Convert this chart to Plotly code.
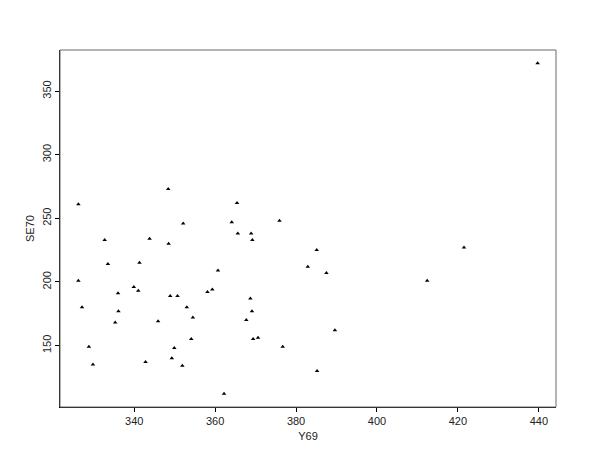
import plotly.graph_objects as go

# Anscombe education data
states = ["ME", "NH", "VT", "MA", "RI", "CT", "NY", "NJ", "PA", "OH", "IN", "IL", "MI",
          "WI", "MN", "IO", "MO", "ND", "SD", "NE", "KA", "DE", "MD", "DC", "VA", "WV",
          "NC", "SC", "GA", "FL", "KY", "TN", "AL", "MS", "AR", "LA", "OK", "TX", "MT",
          "ID", "WY", "CO", "NM", "AZ", "UT", "NV", "WA", "OR", "CA", "AK", "HI"]
y69 = [350.7, 345.9, 348.5, 335.3, 327.1, 341.0, 326.2, 333.5, 326.2, 354.5, 359.3, 348.9, 369.2,
       360.7, 365.4, 343.8, 336.1, 369.1, 368.7, 349.9, 339.9, 375.9, 364.1, 352.1, 353.0, 328.8,
       354.1, 376.7, 370.6, 336.0, 349.3, 342.8, 362.2, 385.2, 351.9, 389.6, 329.8, 369.4, 368.9,
       367.7, 365.6, 358.1, 421.5, 387.5, 412.4, 385.1, 341.3, 332.7, 348.4, 439.7, 382.9]
se70 = [189, 169, 230, 168, 180, 193, 261, 214, 201, 172, 194, 189, 233,
        209, 262, 234, 177, 177, 187, 148, 196, 248, 247, 246, 180, 149,
        155, 149, 156, 191, 140, 137, 112, 130, 134, 162, 135, 155, 238,
        170, 238, 192, 227, 207, 201, 225, 215, 233, 273, 372, 212]

x_ticks = [340, 360, 380, 400, 420, 440]
y_ticks = [150, 200, 250, 300, 350]


def padded(vals, frac=0.04):
    lo, hi = min(vals), max(vals)
    pad = (hi - lo) * frac
    return [lo - pad, hi + pad]


fig = go.Figure()
fig.add_trace(go.Scatter(
    x=y69, y=se70, text=states, mode="markers",
    marker=dict(symbol="triangle-up", size=4, color="black", line=dict(width=0)),
    hoverinfo="text+x+y", showlegend=False,
))

# the left/bottom lines are black, top/right a bit lighter
fig.add_shape(type="rect", xref="paper", yref="paper", x0=0, y0=0, x1=1, y1=1,
              line=dict(color="#6a6a6a", width=1), layer="above")

axis_font = dict(family="Liberation Sans, Arial, sans-serif", size=11, color="#222")
fig.update_xaxes(
    range=padded(y69), tickvals=x_ticks, ticks="outside", ticklen=4, tickcolor="black",
    showline=True, linecolor="black", linewidth=1, showgrid=False, zeroline=False,
    tickfont=axis_font, title=dict(text="Y69", font=axis_font, standoff=6),
)
fig.update_yaxes(
    range=padded(se70), tickvals=y_ticks, ticks="outside", ticklen=4, tickcolor="black",
    showline=True, linecolor="black", linewidth=1, showgrid=False, zeroline=False,
    tickangle=-90, tickfont=axis_font, title=dict(text="SE70", font=axis_font, standoff=3),
)
# page body adds 8px around the figure
fig.update_layout(
    width=592, height=456,
    margin=dict(l=52, r=44, t=42, b=57),
    paper_bgcolor="white", plot_bgcolor="white",
)

fig.write_html("out.html")
